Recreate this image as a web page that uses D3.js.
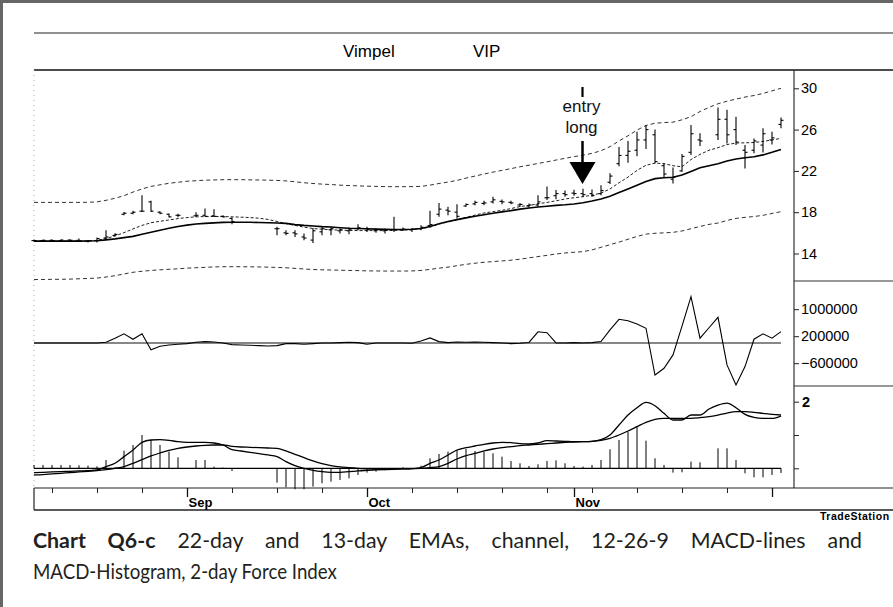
<!DOCTYPE html>
<html><head><meta charset="utf-8">
<script src="https://cdn.jsdelivr.net/npm/d3@7"></script>
<style>body{margin:0;background:#fff}svg{display:block}</style>
</head><body>
<svg id="chart" width="893" height="607"></svg>
<script>
// ---------- data (index = trading day, Aug 9 .. Dec 4) ----------
const titleName = "Vimpel";
const titleSymbol = "VIP";
const priceHigh = [15.35,15.35,15.38,15.38,15.38,15.45,15.30,15.55,16.26,15.96,
 18.03,18.13,19.65,19.10,18.10,17.88,17.86,null,18.00,18.36,
 18.29,17.71,17.49,null,null,null,null,16.58,16.26,16.26,
 15.94,16.48,16.58,16.55,16.42,16.52,16.84,16.58,16.42,16.42,
 17.55,16.52,16.48,16.74,18.13,18.90,18.52,18.78,18.85,19.10,
 19.10,19.49,19.23,19.10,18.90,18.85,19.65,20.50,20.14,20.09,
 20.18,20.26,20.20,20.62,21.78,24.31,24.89,25.79,26.44,26.00,
 22.75,22.32,23.63,26.44,25.64,null,28.14,27.92,27.25,24.50,
 25.15,26.12,25.79,27.17];
const priceLow = [15.17,15.20,15.17,15.20,15.20,15.12,15.07,15.07,15.43,15.68,
 17.70,17.81,18.03,18.03,17.81,17.49,17.52,null,17.55,17.55,
 17.55,17.49,16.84,null,null,null,null,15.77,15.77,15.61,
 15.29,15.02,15.77,15.77,15.94,15.87,16.26,16.09,16.00,15.94,
 16.09,16.19,16.09,16.26,16.58,17.55,17.71,17.39,18.52,18.68,
 18.68,18.85,18.78,18.78,18.52,18.46,18.58,19.17,19.26,19.49,
 19.60,19.50,19.50,19.65,20.72,22.46,22.80,23.43,24.11,22.75,
 21.40,20.79,21.91,23.53,24.40,null,24.99,24.65,24.50,22.24,
 23.70,23.77,24.55,26.12];
const priceOpen = [15.25,15.25,15.28,15.25,15.30,15.28,15.20,15.25,15.50,15.75,
 17.80,17.90,18.10,19.00,18.00,17.80,17.70,null,17.65,17.70,
 17.65,17.60,17.40,null,null,null,null,16.40,16.00,16.00,
 15.60,15.30,16.10,16.30,16.20,16.20,16.40,16.40,16.20,16.20,
 16.30,16.30,16.30,16.40,16.70,17.80,18.20,18.00,18.60,18.80,
 18.85,19.00,19.05,18.95,18.70,18.60,18.70,19.40,19.60,19.80,
 19.85,19.80,19.80,19.80,20.90,22.70,23.50,24.00,25.00,25.50,
 22.50,21.20,22.00,23.80,25.00,null,25.50,27.00,26.00,24.00,
 24.00,24.50,25.00,26.50];
const priceClose = [15.25,15.28,15.25,15.30,15.28,15.20,15.25,15.45,15.60,15.85,
 17.90,18.00,18.10,18.10,17.90,17.55,17.70,null,17.70,17.60,
 17.60,17.55,17.10,null,null,null,null,16.40,15.95,15.90,
 15.50,16.20,16.40,16.40,16.30,16.30,16.50,16.30,16.30,16.25,
 16.30,16.35,16.35,16.55,16.80,18.30,18.10,17.60,18.75,18.95,
 18.90,19.20,19.00,18.90,18.75,18.70,19.00,19.40,19.80,19.70,
 19.80,19.70,19.60,20.10,21.50,23.50,23.90,25.00,26.00,22.90,
 21.70,21.40,23.40,25.60,24.90,null,27.00,25.50,24.80,23.80,
 24.90,25.60,25.20,26.90];
const ema22 = [15.20,15.20,15.20,15.20,15.20,15.20,15.21,15.23,15.32,15.42,
 15.54,15.66,15.86,16.06,16.26,16.45,16.62,16.75,16.85,16.92,
 16.97,17.01,17.03,17.03,17.02,17.00,16.98,16.96,16.92,16.80,
 16.72,16.66,16.60,16.56,16.50,16.45,16.42,16.39,16.36,16.34,
 16.33,16.33,16.35,16.42,16.62,16.88,17.10,17.28,17.45,17.60,
 17.76,17.90,18.03,18.15,18.30,18.40,18.50,18.58,18.66,18.72,
 18.80,18.92,19.08,19.28,19.55,19.90,20.25,20.62,20.98,21.25,
 21.33,21.38,21.60,21.95,22.30,22.50,22.70,22.95,23.15,23.28,
 23.37,23.55,23.80,24.08];
const ema13 = [15.20,15.20,15.20,15.20,15.20,15.20,15.20,15.28,15.45,15.70,
 16.02,16.38,16.72,16.98,17.12,17.25,17.38,17.48,17.55,17.58,
 17.58,17.58,17.55,17.52,17.48,17.42,17.30,17.10,16.90,16.72,
 16.55,16.42,16.35,16.30,16.26,16.24,16.22,16.22,16.22,16.22,
 16.24,16.26,16.30,16.42,16.55,16.85,17.05,17.25,17.50,17.72,
 17.92,18.05,18.18,18.35,18.55,18.65,18.82,18.95,19.10,19.28,
 19.40,19.50,19.65,19.85,20.25,20.85,21.40,22.05,22.55,22.75,
 22.70,22.50,22.40,23.10,23.60,24.00,24.25,24.55,24.70,24.72,
 24.75,24.85,25.00,25.15];
const channelUpper = [18.95,18.95,18.95,18.95,18.95,18.95,18.96,19.00,19.15,19.35,
 19.60,19.95,20.25,20.50,20.65,20.80,20.90,21.00,21.05,21.10,
 21.12,21.15,21.15,21.15,21.13,21.12,21.10,21.08,21.03,20.95,
 20.85,20.78,20.72,20.68,20.62,20.58,20.55,20.52,20.50,20.48,
 20.47,20.47,20.48,20.50,20.62,20.78,20.92,21.08,21.30,21.50,
 21.70,21.88,22.05,22.22,22.40,22.55,22.72,22.88,23.05,23.22,
 23.38,23.52,23.70,23.95,24.35,24.90,25.40,25.95,26.40,26.62,
 26.68,26.72,26.95,27.25,27.75,28.15,28.50,28.75,28.95,29.15,
 29.30,29.50,29.75,30.00];
const channelLower = [11.48,11.48,11.50,11.50,11.52,11.55,11.58,11.62,11.72,11.85,
 12.02,12.18,12.28,12.36,12.42,12.47,12.52,12.58,12.62,12.66,
 12.70,12.72,12.72,12.72,12.71,12.70,12.68,12.65,12.62,12.56,
 12.50,12.45,12.42,12.40,12.38,12.36,12.34,12.32,12.31,12.30,
 12.30,12.30,12.31,12.36,12.46,12.58,12.68,12.82,12.95,13.06,
 13.15,13.22,13.28,13.35,13.45,13.58,13.70,13.82,13.95,14.05,
 14.12,14.18,14.35,14.60,14.85,15.10,15.38,15.65,15.88,15.96,
 16.00,16.05,16.18,16.40,16.62,16.82,16.95,17.20,17.40,17.50,
 17.58,17.70,17.88,18.05];
const forceIndex = [0,0,0,0,0,0,0,0,20000,140000,
 270000,110000,270000,-200000,-100000,-60000,-40000,-20000,20000,40000,
 30000,0,-50000,-60000,-70000,-80000,-90000,-80000,-20000,-20000,
 -40000,-20000,0,0,10000,20000,10000,-40000,0,0,
 0,0,-10000,60000,150000,40000,10000,30000,20000,30000,
 20000,10000,0,-20000,-10000,15000,330000,305000,0,0,
 10000,0,10000,40000,385000,700000,660000,560000,435000,-950000,
 -750000,-355000,500000,1370000,140000,450000,760000,-650000,-1245000,-700000,
 110000,270000,140000,335000];
const macdLine = [-0.13,-0.12,-0.11,-0.10,-0.09,-0.08,-0.07,-0.05,0.05,0.15,
 0.35,0.55,0.78,0.85,0.86,0.84,0.80,0.78,0.78,0.78,
 0.76,0.70,0.56,0.52,0.48,0.44,0.40,0.35,0.20,0.08,
 0.00,-0.06,-0.10,-0.12,-0.12,-0.10,-0.08,-0.06,-0.05,-0.04,
 -0.03,-0.02,-0.01,0.02,0.15,0.25,0.40,0.55,0.62,0.67,
 0.72,0.76,0.78,0.77,0.74,0.73,0.76,0.83,0.82,0.81,
 0.80,0.80,0.81,0.86,1.00,1.30,1.60,1.82,1.98,1.88,
 1.65,1.45,1.45,1.60,1.60,1.78,1.90,1.96,1.82,1.62,
 1.53,1.50,1.50,1.57];
const signalLine = [-0.20,-0.19,-0.17,-0.15,-0.13,-0.11,-0.09,-0.07,-0.04,0.00,
 0.05,0.15,0.26,0.37,0.46,0.54,0.60,0.64,0.67,0.69,
 0.70,0.70,0.66,0.64,0.63,0.62,0.61,0.60,0.52,0.42,
 0.32,0.22,0.14,0.08,0.04,0.02,0.00,-0.02,-0.03,-0.03,
 -0.02,-0.02,-0.01,0.00,0.02,0.05,0.15,0.28,0.38,0.45,
 0.52,0.58,0.62,0.65,0.68,0.70,0.72,0.74,0.76,0.78,
 0.79,0.80,0.81,0.84,0.90,1.00,1.12,1.25,1.38,1.47,
 1.50,1.50,1.50,1.50,1.52,1.55,1.60,1.66,1.70,1.70,
 1.68,1.65,1.62,1.60];
const macdHist = [0.10,0.10,0.10,0.10,0.10,0.09,0.08,0.06,0.25,0.03,
 0.53,0.70,1.00,0.85,0.70,0.50,0.33,null,0.25,0.25,
 0.05,0.02,-0.08,null,null,null,null,-0.43,-0.57,-0.63,
 -0.63,-0.55,-0.45,-0.40,-0.35,-0.30,-0.20,-0.13,-0.10,-0.06,
 -0.03,0.03,0.01,0.08,0.30,0.43,0.50,0.55,0.58,0.52,
 0.50,0.45,0.35,0.22,0.15,0.07,0.12,0.22,0.24,0.15,
 0.07,0.05,0.10,0.25,0.57,0.85,1.10,1.25,0.83,0.30,
 0.10,-0.13,-0.12,0.20,0.18,null,0.60,0.60,0.25,-0.15,
 -0.27,-0.27,-0.20,-0.14];
const priceTicks = [14,18,22,26,30];
const forceTicks = [-600000,200000,1000000];
const macdTicks = [0,1,2];
const macdTickLabels = ["","","2"];
const weekTickIdx = [2,7,12,22,27,32,42,47,52,57,62,67,72,77];
const monthTickIdx = [17,37,60,82];
const monthLabels = ["Sep","Oct","Nov",""];
const entryIdx = 61;
const entryText = ["entry","long"];
const captionBold = "Chart Q6-c";
const captionLine1 = "22-day and 13-day EMAs, channel, 12-26-9 MACD-lines and";
const captionLine2 = "MACD-Histogram, 2-day Force Index";
const vendor = "TradeStation";

// ---------- drawing ----------
const svg = d3.select("#chart");
const AX = "'Liberation Sans', Arial, sans-serif";
const idx = d3.range(priceHigh.length);

const x = d3.scaleLinear().domain([0, priceHigh.length - 1]).range([34, 781]);
const yP = d3.scaleLinear().domain([14, 30]).range([253.5, 88.3]);
const yF = d3.scaleLinear().domain([-600000, 1000000]).range([363.2, 309.2]);
const yM = d3.scaleLinear().domain([0, 2]).range([468.3, 401.7]);

// page frame
svg.append("line").attr("x1",0).attr("x2",893).attr("y1",1.5).attr("y2",1.5).attr("stroke","#666").attr("stroke-width",3);
svg.append("line").attr("x1",1.5).attr("x2",1.5).attr("y1",0).attr("y2",607).attr("stroke","#666").attr("stroke-width",3);

// header lines and title
svg.append("line").attr("x1",34).attr("x2",893).attr("y1",33).attr("y2",33).attr("stroke","#222").attr("stroke-width",1.2);
svg.append("line").attr("x1",34).attr("x2",893).attr("y1",70).attr("y2",70).attr("stroke","#111").attr("stroke-width",1.5);
svg.append("text").attr("x",343).attr("y",57).style("font-family",AX).style("font-size","17px").text(titleName);
svg.append("text").attr("x",473).attr("y",57).style("font-family",AX).style("font-size","17px").text(titleSymbol);

// structural lines
svg.append("line").attr("x1",794).attr("x2",794).attr("y1",70).attr("y2",488).attr("stroke","#333").attr("stroke-width",1.2);
[281,386].forEach(yy => svg.append("line").attr("x1",794).attr("x2",893).attr("y1",yy).attr("y2",yy).attr("stroke","#333").attr("stroke-width",1.2));
svg.append("line").attr("x1",34).attr("x2",34).attr("y1",70).attr("y2",488).attr("stroke","#aaa").attr("stroke-width",1).attr("stroke-dasharray","1,4");
svg.append("line").attr("x1",34).attr("x2",893).attr("y1",488).attr("y2",488).attr("stroke","#222").attr("stroke-width",1.2);
svg.append("line").attr("x1",34).attr("x2",893).attr("y1",510).attr("y2",510).attr("stroke","#222").attr("stroke-width",1.5);
svg.append("line").attr("x1",34).attr("x2",34).attr("y1",488).attr("y2",510).attr("stroke","#222").attr("stroke-width",1.2);

// ---- top panel ----
const lineP = arr => d3.line().defined(i => arr[i] != null).x(i => x(i)).y(i => yP(arr[i]))(idx);
svg.append("path").attr("d", lineP(channelUpper)).attr("fill","none").attr("stroke","#333").attr("stroke-width",1).attr("stroke-dasharray","4,3");
svg.append("path").attr("d", lineP(channelLower)).attr("fill","none").attr("stroke","#333").attr("stroke-width",1).attr("stroke-dasharray","4,3");
svg.append("path").attr("d", lineP(ema13)).attr("fill","none").attr("stroke","#222").attr("stroke-width",1).attr("stroke-dasharray","3,2");
svg.append("path").attr("d", lineP(ema22)).attr("fill","none").attr("stroke","#000").attr("stroke-width",1.6);

const bars = svg.append("g").attr("stroke","#000").attr("stroke-width",1.1);
idx.filter(i => priceHigh[i] != null).forEach(i => {
  const xi = x(i);
  bars.append("line").attr("x1",xi).attr("x2",xi).attr("y1",yP(priceHigh[i])).attr("y2",yP(priceLow[i]));
  bars.append("line").attr("x1",xi-2.5).attr("x2",xi).attr("y1",yP(priceOpen[i])).attr("y2",yP(priceOpen[i]));
  bars.append("line").attr("x1",xi).attr("x2",xi+2.5).attr("y1",yP(priceClose[i])).attr("y2",yP(priceClose[i]));
});

const axisStyle = g => { g.select(".domain").remove();
  g.selectAll(".tick line").attr("stroke","#222").attr("stroke-width",1);
  g.selectAll(".tick text").style("font-family",AX).style("font-size","14.5px").attr("fill","#000"); };
svg.append("g").attr("transform","translate(794,0)")
  .call(d3.axisRight(yP).tickValues(priceTicks).tickSize(5).tickPadding(2).tickFormat(d3.format("d"))).call(axisStyle);

// entry annotation
const ex = x(entryIdx) - 0.5;
svg.append("line").attr("x1",ex).attr("x2",ex).attr("y1",87).attr("y2",97).attr("stroke","#000").attr("stroke-width",2.2);
entryText.forEach((t,k) => svg.append("text").attr("x",ex-1).attr("y",111.5+k*21).attr("text-anchor","middle")
  .style("font-family",AX).style("font-size","17px").attr("fill","#111").text(t));
svg.append("line").attr("x1",ex).attr("x2",ex).attr("y1",141).attr("y2",163).attr("stroke","#000").attr("stroke-width",2.5);
svg.append("path").attr("d",`M${ex-13},162 L${ex+13},162 L${ex},184 Z`).attr("fill","#000");

// ---- force index panel ----
svg.append("line").attr("x1",x(0)).attr("x2",x(idx.length-1)).attr("y1",yF(0)).attr("y2",yF(0)).attr("stroke","#111").attr("stroke-width",1.1);
svg.append("path").attr("d", d3.line().x(i => x(i)).y(i => yF(forceIndex[i]))(idx))
  .attr("fill","none").attr("stroke","#000").attr("stroke-width",1.1);
svg.append("g").attr("transform","translate(794,0)")
  .call(d3.axisRight(yF).tickValues(forceTicks).tickSize(5).tickPadding(2).tickFormat(d3.format("d"))).call(axisStyle);

// ---- MACD panel ----
svg.append("line").attr("x1",x(0)).attr("x2",x(idx.length-1)).attr("y1",yM(0)).attr("y2",yM(0)).attr("stroke","#000").attr("stroke-width",1.3);
const hist = svg.append("g").attr("stroke","#000").attr("stroke-width",1);
idx.filter(i => macdHist[i] != null).forEach(i => {
  hist.append("line").attr("x1",x(i)).attr("x2",x(i)).attr("y1",yM(0)).attr("y2",yM(macdHist[i]));
});
[macdLine, signalLine].forEach(arr => svg.append("path")
  .attr("d", d3.line().curve(d3.curveMonotoneX).x(i => x(i)).y(i => yM(arr[i]))(idx))
  .attr("fill","none").attr("stroke","#000").attr("stroke-width",1.3));
svg.append("g").attr("transform","translate(794,0)")
  .call(d3.axisRight(yM).tickValues(macdTicks).tickSize(5).tickPadding(3).tickFormat((d,k) => macdTickLabels[k])).call(axisStyle)
  .selectAll(".tick text").style("font-weight","bold");

// ---- x axis ----
svg.append("g").attr("transform","translate(0,488)")
  .call(d3.axisBottom(x).tickValues(weekTickIdx).tickSize(5).tickFormat(""))
  .call(g => { g.select(".domain").remove(); g.selectAll(".tick line").attr("stroke","#222"); });
const mAxis = svg.append("g").attr("transform","translate(0,488)")
  .call(d3.axisBottom(x).tickValues(monthTickIdx).tickSize(9).tickFormat((d,k) => monthLabels[k]));
mAxis.select(".domain").remove();
mAxis.selectAll(".tick line").attr("stroke","#111").attr("stroke-width",1.3);
mAxis.selectAll(".tick text").attr("text-anchor","start").attr("x",1).attr("y",10).attr("dy","0.71em")
  .style("font-family",AX).style("font-size","13px").style("font-weight","bold").attr("fill","#000");

const vt = svg.append("text").attr("x",820).attr("y",520).style("font-family",AX).style("font-size","10.5px")
  .style("font-weight","bold").style("letter-spacing","0.5px").text(vendor);
const vw = vt.node().getComputedTextLength();
if (820 + vw > 891) vt.attr("textLength", 71).attr("lengthAdjust","spacingAndGlyphs");

// ---- caption (line 1 justified to the full width, line 2 natural) ----
const CF = "Lato, 'Open Sans', sans-serif";
const c2 = svg.append("text").attr("y",579.5).style("font-family",CF).style("font-size","21.5px").attr("fill","#231f20").text(captionLine2);
const w2 = c2.node().getComputedTextLength();
const s2 = 304 / w2;
c2.attr("transform",`translate(33,0) scale(${s2},1)`);
const c1 = svg.append("text").attr("y",548.5).style("font-family",CF).style("font-size","21.5px").attr("fill","#231f20");
c1.append("tspan").style("font-weight","bold").text(captionBold);
c1.append("tspan").text(" " + captionLine1);
const full1 = captionBold + " " + captionLine1;
const nSpaces = full1.split(" ").length - 1;
const s1 = s2 * 1.14;
c1.attr("transform",`translate(33,0) scale(${s1},1)`);
const w1 = c1.node().getComputedTextLength();
c1.attr("word-spacing", Math.max(0, (829 / s1 - w1) / nSpaces));
</script>
</body></html>
